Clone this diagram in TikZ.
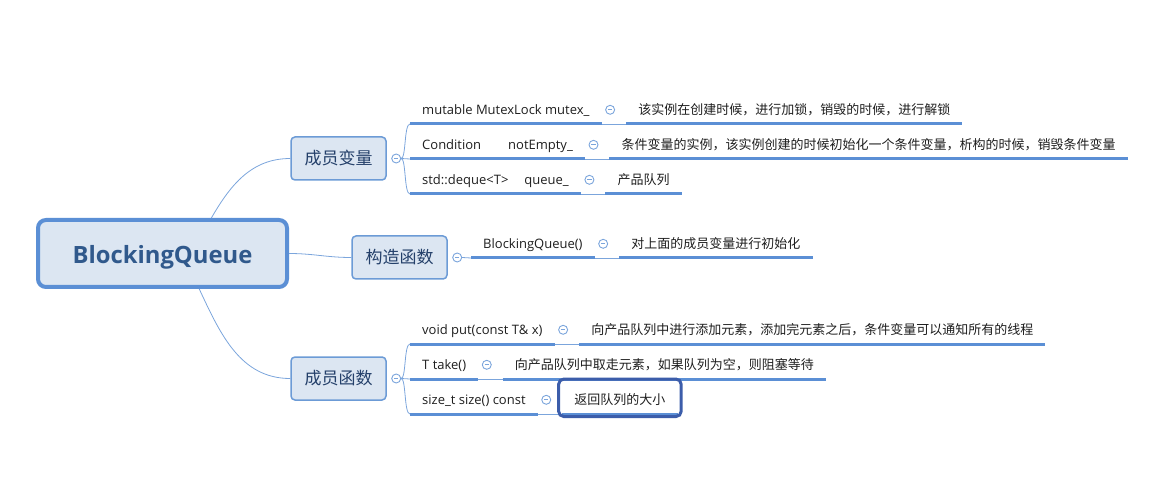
\documentclass[tikz,border=0pt]{standalone}
\usepackage{fontspec}
\setmainfont{Open Sans}
\newfontfamily\cjk{Noto Sans CJK SC}
\usetikzlibrary{positioning,fit}
\definecolor{mainblue}{HTML}{5B8FD5}
\definecolor{boxline}{HTML}{6C9BD6}
\definecolor{boxfill}{HTML}{DCE6F2}
\definecolor{linkblue}{HTML}{7BA5DC}
\definecolor{roottext}{HTML}{30598C}
\definecolor{boxtext}{HTML}{24406A}
\definecolor{textgray}{HTML}{1E1E1E}
\definecolor{selblue}{HTML}{3C5DAA}
\tikzset{
	root/.style={draw=mainblue, line width=4pt, fill=boxfill, rounded corners=8pt,
		minimum width=249pt, minimum height=67pt, text=roottext, text height=21pt, text depth=0pt,
		font=\fontsize{23.8}{28}\selectfont\bfseries},
	branch/.style={draw=boxline, line width=1.5pt, fill=boxfill, rounded corners=4pt,
		minimum width=95pt, minimum height=43pt, text=boxtext,
		font=\cjk\fontsize{17}{20}\selectfont},
	fold/.style={circle, draw=linkblue, fill=white, line width=0.9pt, minimum size=9pt, inner sep=0pt,
		path picture={\draw[linkblue, line width=0.9pt] ([xshift=-2.2pt]path picture bounding box.center) -- ([xshift=2.2pt]path picture bounding box.center);}},
	topic/.style={anchor=south west, inner xsep=12pt, inner ysep=9.5pt, text height=9pt, text depth=0pt,
		text=textgray, font=\fontsize{13}{15}\selectfont},
	note/.style={topic, font=\cjk\fontsize{13}{15}\selectfont},
	uline/.style={mainblue, line width=3pt},
	link/.style={linkblue, line width=0.8pt},
	selbox/.style={draw=selblue, line width=3pt, rounded corners=5pt, inner xsep=3.5pt, inner ysep=4.5pt, yshift=2pt}
}
\begin{document}
\begin{tikzpicture}[x=1pt, y=-1pt]
	\useasboundingbox (0,0) rectangle (1176,489);
	
	\node[root] (root) at (162.5,253.5) {BlockingQueue};
	\node[branch] (vars) at (338.5,158.5) {成员变量};
	\node[branch] (ctor) at (399.5,257.5) {构造函数};
	\node[branch] (funcs) at (338.5,378.5) {成员函数};
	\draw[link] (root.36) to[out=60, in=180] (vars.west);
	\draw[link] (root.east) to[out=0, in=180] (ctor.west);
	\draw[link] (root.-44) to[out=-65, in=180] (funcs.west);
	
	%member variables
	\node[fold, right=4.5pt of vars] (fv) {};
	\node[topic] (v1) at (410,124) {mutable MutexLock mutex\_};
	\node[topic] (v2) at (410,159) {Condition\hspace{27pt}notEmpty\_};
	\node[topic] (v3) at (410,194) {std::deque<T>\hspace{16pt}queue\_};
	\node[fold, right=3.5pt of v1] (fv1) {};
	\node[fold, right=3.5pt of v2] (fv2) {};
	\node[fold, right=3.5pt of v3] (fv3) {};
	\node[note, right=11pt of fv1] (d1) {该实例在创建时候，进行加锁，销毁的时候，进行解锁};
	\node[note, right=11pt of fv2] (d2) {条件变量的实例，该实例创建的时候初始化一个条件变量，析构的时候，销毁条件变量};
	\node[note, right=11pt of fv3] (d3) {产品队列};
	\draw[link] (fv.east) .. controls +(5,0) and +(-6,0) .. (v1.south west);
	\draw[link] (fv.east) -- (v2.south west);
	\draw[link] (fv.east) .. controls +(5,0) and +(-6,0) .. (v3.south west);
	
	%constructor
	\node[fold, right=4.5pt of ctor] (fc) {};
	\node[topic] (c1) at (471,258) {BlockingQueue()};
	\node[fold, right=3.5pt of c1] (fc1) {};
	\node[note, right=11pt of fc1] (cd1) {对上面的成员变量进行初始化};
	\draw[link] (fc.east) -- (c1.south west);
	
	%member functions
	\node[fold, right=4.5pt of funcs] (fp) {};
	\node[topic] (p1) at (410,344) {void put(const T\& x)};
	\node[topic] (p2) at (410,379) {T take()};
	\node[topic] (p3) at (410,414) {size\_t size() const};
	\node[fold, right=3.5pt of p1] (fp1) {};
	\node[fold, right=3.5pt of p2] (fp2) {};
	\node[fold, right=3.5pt of p3] (fp3) {};
	\node[note, right=11pt of fp1] (pd1) {向产品队列中进行添加元素，添加完元素之后，条件变量可以通知所有的线程};
	\node[note, right=11pt of fp2] (pd2) {向产品队列中取走元素，如果队列为空，则阻塞等待};
	\node[note, right=11pt of fp3] (pd3) {返回队列的大小};
	\draw[link] (fp.east) .. controls +(5,0) and +(-6,0) .. (p1.south west);
	\draw[link] (fp.east) -- (p2.south west);
	\draw[link] (fp.east) .. controls +(5,0) and +(-6,0) .. (p3.south west);
	
	%underlines and links between topic and note
	\foreach \t/\n in {v1/d1, v2/d2, v3/d3, c1/cd1, p1/pd1, p2/pd2, p3/pd3}
	{
		\draw[link] (\t.south east) -- (\n.south west);
		\draw[uline] (\t.south west) -- (\t.south east);
		\draw[uline] (\n.south west) -- (\n.south east);
	}
	
	%selected note
	\node[selbox, fit=(pd3)] (sel) {};
\end{tikzpicture}
\end{document}
